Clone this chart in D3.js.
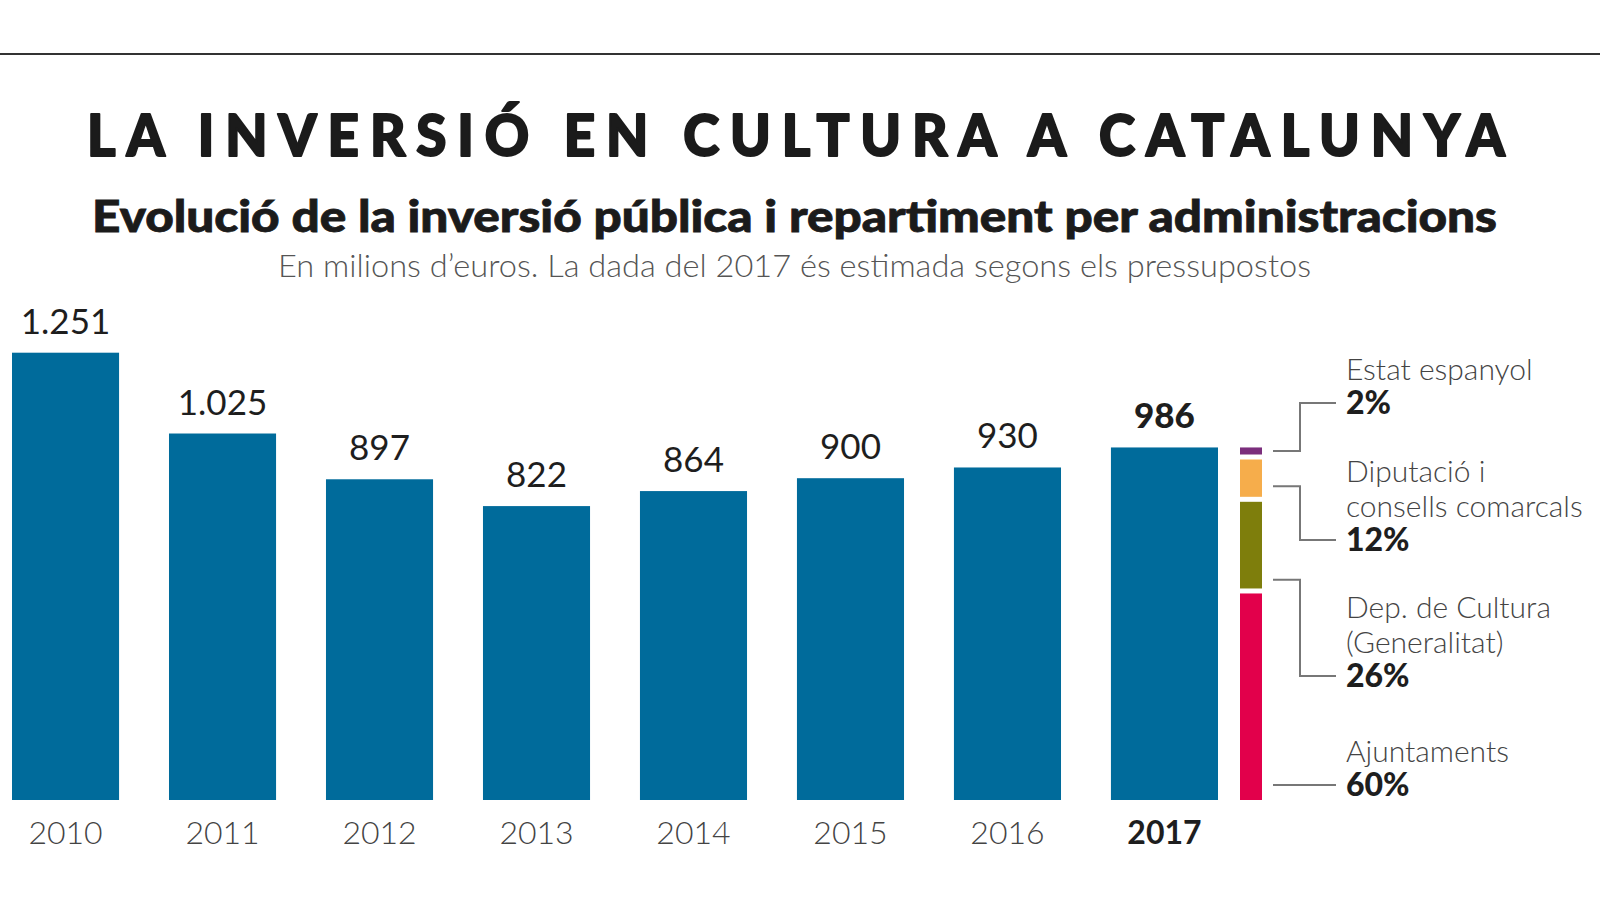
<!DOCTYPE html>
<html>
<head>
<meta charset="utf-8">
<script src="https://cdn.jsdelivr.net/npm/d3@7"></script>
<style>
  html, body { margin: 0; padding: 0; background: #fff; }
  svg { display: block; }
</style>
</head>
<body>
<div id="chart"></div>
<script>
// dades
const years = ["2010", "2011", "2012", "2013", "2014", "2015", "2016", "2017"];
const values = [1251, 1025, 897, 822, 864, 900, 930, 986];
const valueLabels = ["1.251", "1.025", "897", "822", "864", "900", "930", "986"];

// repartiment 2017, de baix a dalt
const shareNames = [["Ajuntaments"], ["Dep. de Cultura", "(Generalitat)"], ["Diputació i", "consells comarcals"], ["Estat espanyol"]];
const sharePct = [60, 26, 12, 2];
const shareColors = ["#e2004b", "#7e7e0c", "#f6ad4b", "#7b2e7c"];

const width = 1600, height = 900;
const svg = d3.select("#chart").append("svg")
  .attr("width", width)
  .attr("height", height);

// línia superior
svg.append("line")
  .attr("x1", 0).attr("x2", width)
  .attr("y1", 54).attr("y2", 54)
  .attr("stroke", "#333").attr("stroke-width", 2);

// títol espaiat
const sx = 0.96;
svg.append("text")
  .attr("transform", `translate(87,156) scale(${sx},1)`)
  .attr("textLength", 1418 / sx).attr("lengthAdjust", "spacing")
  .attr("font-family", "Lato, 'DejaVu Sans', sans-serif")
  .attr("font-weight", 900)
  .attr("font-size", 57)
  .attr("fill", "#1b1b1b")
  .attr("stroke", "#1b1b1b")
  .attr("stroke-width", 2)
  .attr("stroke-linejoin", "round")
  .text("LA INVERSIÓ EN CULTURA A CATALUNYA");

svg.append("text")
  .attr("x", 92).attr("y", 232)
  .attr("textLength", 1405).attr("lengthAdjust", "spacingAndGlyphs")
  .attr("font-family", "Lato, 'DejaVu Sans', sans-serif")
  .attr("font-weight", 900)
  .attr("font-size", 43)
  .attr("fill", "#1b1b1b")
  .attr("stroke", "#1b1b1b")
  .attr("stroke-width", 0.8)
  .text("Evolució de la inversió pública i repartiment per administracions");

svg.append("text")
  .attr("x", 278).attr("y", 277)
  .attr("textLength", 1033).attr("lengthAdjust", "spacingAndGlyphs")
  .attr("font-family", "Lato, 'Open Sans', sans-serif")
  .attr("font-weight", 300)
  .attr("font-size", 32)
  .attr("fill", "#555")
  .text("En milions d’euros. La dada del 2017 és estimada segons els pressupostos");

// escales
const x = d3.scaleBand()
  .domain(years)
  .range([12, 1218])
  .paddingInner(0.318)
  .paddingOuter(0);

const y = d3.scaleLinear()
  .domain([0, d3.max(values)])
  .range([800, 352.7]);

const data = years.map((yr, i) => ({ year: yr, value: values[i], label: valueLabels[i], last: i === years.length - 1 }));

// barres
svg.append("g")
  .selectAll("rect")
  .data(data)
  .join("rect")
  .attr("x", d => x(d.year))
  .attr("y", d => y(d.value))
  .attr("width", x.bandwidth())
  .attr("height", d => y(0) - y(d.value))
  .attr("fill", "#006b9b");

// valors
svg.append("g")
  .selectAll("text")
  .data(data)
  .join("text")
  .attr("x", d => x(d.year) + x.bandwidth() / 2)
  .attr("y", d => y(d.value) - 19)
  .attr("text-anchor", "middle")
  .attr("font-family", "Lato, 'DejaVu Sans', sans-serif")
  .attr("font-weight", d => d.last ? 900 : 400)
  .attr("font-size", 35)
  .attr("fill", "#1e1e1e")
  .text(d => d.label);

// anys
svg.append("g")
  .selectAll("text")
  .data(data)
  .join("text")
  .attr("x", d => x(d.year) + x.bandwidth() / 2)
  .attr("y", 844)
  .attr("text-anchor", "middle")
  .attr("font-family", "Lato, 'Open Sans', sans-serif")
  .attr("font-weight", d => d.last ? 700 : 300)
  .attr("font-size", 32)
  .attr("fill", d => d.last ? "#1e1e1e" : "#444")
  .text(d => d.year);

// barra apilada del 2017
const total = values[values.length - 1];
let cum = 0;
const shares = sharePct.map((p, i) => {
  const s = { i, pct: p, names: shareNames[i], color: shareColors[i], v0: cum, v1: cum + total * p / 100 };
  cum = s.v1;
  return s;
});
const gap = 5;
const stackX = 1240, stackW = 22;

svg.append("g")
  .selectAll("rect")
  .data(shares)
  .join("rect")
  .attr("x", stackX)
  .attr("width", stackW)
  .attr("y", d => y(d.v1) + (d.i < shares.length - 1 ? gap : 0))
  .attr("height", d => y(d.v0) - y(d.v1) - (d.i < shares.length - 1 ? gap : 0))
  .attr("fill", d => d.color);

// llegenda
const pctBaseline = [796, 687, 551, 414];
const anchorFrac = [null, 0.9, 0.72, 0.5];
const lineH = 34.5;
const legX = 1346;

shares.forEach((s, k) => {
  const top = y(s.v1) + (k < shares.length - 1 ? gap : 0);
  const bot = y(s.v0);
  const ry = pctBaseline[k] - 11;
  const ly = anchorFrac[k] === null ? ry : top + (bot - top) * anchorFrac[k];
  svg.append("path")
    .attr("d", `M${stackX + stackW + 11},${ly}H1300V${ry}H1336`)
    .attr("fill", "none")
    .attr("stroke", "#777")
    .attr("stroke-width", 2);

  const g = svg.append("g");
  s.names.forEach((n, j) => {
    g.append("text")
      .attr("x", legX)
      .attr("y", pctBaseline[k] - lineH * (s.names.length - j))
      .attr("font-family", "Lato, 'Open Sans', sans-serif")
      .attr("font-weight", 300)
      .attr("font-size", 30)
      .attr("fill", "#444")
      .text(n);
  });
  g.append("text")
    .attr("x", legX)
    .attr("y", pctBaseline[k])
    .attr("font-family", "Lato, 'DejaVu Sans', sans-serif")
    .attr("font-weight", 900)
    .attr("font-size", 32)
    .attr("fill", "#1e1e1e")
    .text(s.pct + "%");
});
</script>
</body>
</html>
